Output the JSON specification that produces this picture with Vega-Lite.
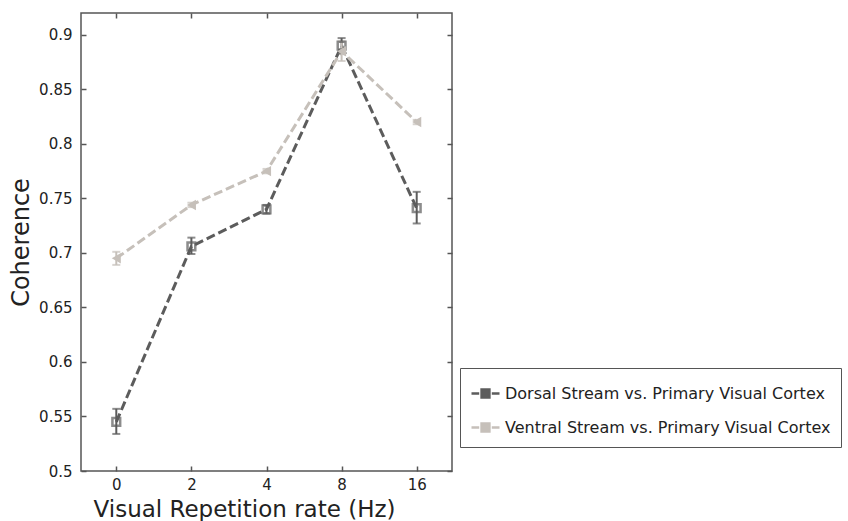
{
  "$schema": "https://vega.github.io/schema/vega-lite/v6.json",
  "autosize": {"type": "none"},
  "width": 371,
  "height": 458,
  "padding": {"left": 81, "top": 13, "right": 396, "bottom": 50},
  "background": "white",
  "config": {
    "view": {"stroke": "#555", "strokeWidth": 1.5},
    "font": "DejaVu Sans",
    "axis": {"domain": false, "grid": false, "tickColor": "#555", "tickWidth": 1.5, "labelColor": "#222", "titleColor": "#222", "labelFont": "DejaVu Sans", "titleFont": "DejaVu Sans", "titleFontWeight": "normal"}
  },
  "data": {"values": [
    {"rate": "0", "series": "Dorsal Stream vs. Primary Visual Cortex", "value": 0.545, "lo": 0.534, "hi": 0.557},
    {"rate": "2", "series": "Dorsal Stream vs. Primary Visual Cortex", "value": 0.706, "lo": 0.699, "hi": 0.714},
    {"rate": "4", "series": "Dorsal Stream vs. Primary Visual Cortex", "value": 0.740, "lo": 0.736, "hi": 0.744},
    {"rate": "8", "series": "Dorsal Stream vs. Primary Visual Cortex", "value": 0.890, "lo": 0.883, "hi": 0.897},
    {"rate": "16", "series": "Dorsal Stream vs. Primary Visual Cortex", "value": 0.741, "lo": 0.727, "hi": 0.756},
    {"rate": "0", "series": "Ventral Stream vs. Primary Visual Cortex", "value": 0.695, "lo": 0.689, "hi": 0.701},
    {"rate": "2", "series": "Ventral Stream vs. Primary Visual Cortex", "value": 0.744, "lo": 0.742, "hi": 0.746},
    {"rate": "4", "series": "Ventral Stream vs. Primary Visual Cortex", "value": 0.775, "lo": 0.773, "hi": 0.777},
    {"rate": "8", "series": "Ventral Stream vs. Primary Visual Cortex", "value": 0.885, "lo": 0.876, "hi": 0.894},
    {"rate": "16", "series": "Ventral Stream vs. Primary Visual Cortex", "value": 0.820, "lo": 0.818, "hi": 0.822}
  ]},
  "encoding": {
    "x": {"field": "rate", "type": "ordinal", "sort": ["0", "2", "4", "8", "16"],
      "scale": {"type": "point", "padding": 0.47}, "axis": null},
    "color": {"field": "series", "type": "nominal",
      "scale": {"domain": ["Dorsal Stream vs. Primary Visual Cortex", "Ventral Stream vs. Primary Visual Cortex"], "range": ["#5c5c5c", "#c6c0ba"]},
      "legend": {"title": null, "orient": "none", "legendX": 379, "legendY": 355,
        "symbolType": "M-1,0H-0.45M-0.28,-0.28H0.28V0.28H-0.28ZM-0.28,0H0.28M0.45,0H1",
        "symbolStrokeWidth": 2.5, "symbolSize": 784,
        "labelFontSize": 16, "labelColor": "#222", "labelLimit": 600, "rowPadding": 9, "padding": 10,
        "strokeColor": "#555", "fillColor": "white", "cornerRadius": 0, "symbolOffset": 0, "labelOffset": 4,
        "encode": {"symbols": {"update": {"fill": {"value": "white"}}}}}}
  },
  "layer": [
    {"mark": {"type": "line", "strokeDash": [9, 4], "strokeWidth": 3},
      "encoding": {
        "x": {"field": "rate", "type": "ordinal", "sort": ["0", "2", "4", "8", "16"],
          "axis": {"orient": "bottom", "title": "Visual Repetition rate (Hz)", "labelAngle": 0, "labelFontSize": 15, "titleFontSize": 23, "tickSize": -5, "labelPadding": 11, "titleX": 163, "titleY": 45, "titleBaseline": "alphabetic", "titleAnchor": null, "titleAlign": "center"}},
        "y": {"field": "value", "type": "quantitative",
          "scale": {"domain": [0.5, 0.92], "nice": false, "zero": false},
          "axis": {"orient": "left", "title": "Coherence", "values": [0.5, 0.55, 0.6, 0.65, 0.7, 0.75, 0.8, 0.85, 0.9], "format": ".2~f", "labelFontSize": 15, "titleFontSize": 24, "tickSize": -5, "labelPadding": 14, "titleX": -60, "titleY": 229, "titleBaseline": "middle", "titleAlign": "center", "titleAngle": -90}}}},
    {"mark": {"type": "errorbar", "ticks": {"size": 8, "thickness": 2}, "thickness": 2},
      "encoding": {"y": {"field": "lo", "type": "quantitative", "axis": null}, "y2": {"field": "hi"}}},
    {"transform": [{"filter": "datum.series == 'Dorsal Stream vs. Primary Visual Cortex'"}],
      "mark": {"type": "point", "shape": "square", "filled": false, "strokeWidth": 2.5, "size": 60},
      "encoding": {"y": {"field": "value", "type": "quantitative", "axis": null}}},
    {"transform": [{"filter": "datum.series == 'Ventral Stream vs. Primary Visual Cortex'"}],
      "mark": {"type": "point", "shape": "triangle-left", "filled": true, "opacity": 1, "size": 110},
      "encoding": {"y": {"field": "value", "type": "quantitative", "axis": null}}},
    {"mark": {"type": "point", "filled": true, "size": 0, "opacity": 0},
      "encoding": {
        "x": {"field": "rate", "type": "ordinal", "sort": ["0", "2", "4", "8", "16"], "axis": {"orient": "top", "title": null, "labels": false, "tickSize": -5}},
        "y": {"field": "value", "type": "quantitative", "axis": {"orient": "right", "title": null, "labels": false, "tickSize": -5, "values": [0.5, 0.55, 0.6, 0.65, 0.7, 0.75, 0.8, 0.85, 0.9]}}}}
  ],
  "resolve": {"axis": {"x": "independent", "y": "independent"}}
}
